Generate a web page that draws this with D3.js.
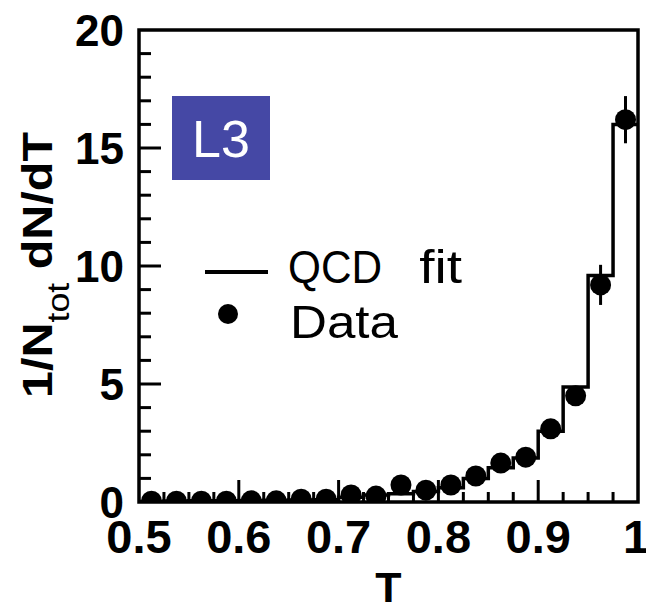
<!DOCTYPE html>
<html>
<head>
<meta charset="utf-8">
<script src="https://cdn.jsdelivr.net/npm/d3@7"></script>
<style>
  html, body { margin: 0; padding: 0; background: #fff; }
  svg { display: block; font-family: "Liberation Sans", Arial, sans-serif; }
</style>
</head>
<body>
<svg id="chart" width="646" height="607"></svg>
<script>
// ---- data ----
const binCenters = [0.5125, 0.5375, 0.5625, 0.5875, 0.6125, 0.6375, 0.6625, 0.6875, 0.7125, 0.7375,
                    0.7625, 0.7875, 0.8125, 0.8375, 0.8625, 0.8875, 0.9125, 0.9375, 0.9625, 0.9875];
const binWidth = 0.025;
const dataValues = [0.03, 0.03, 0.03, 0.03, 0.05, 0.05, 0.12, 0.12, 0.3, 0.25,
                    0.72, 0.5, 0.72, 1.1, 1.65, 1.9, 3.1, 4.5, 9.2, 16.2];
const dataErrors = [0.03, 0.03, 0.03, 0.03, 0.04, 0.04, 0.05, 0.05, 0.07, 0.07,
                    0.1, 0.1, 0.1, 0.12, 0.15, 0.2, 0.25, 0.35, 0.85, 1.0];
const fitValues  = [0.02, 0.04, 0.05, 0.05, 0.06, 0.07, 0.08, 0.1, 0.2, 0.3,
                    0.35, 0.45, 0.6, 1.0, 1.45, 1.86, 3.0, 4.87, 9.6, 16.0];
const xTickLabels = ["0.5", "0.6", "0.7", "0.8", "0.9", "1"];
const xTickValues = [0.5, 0.6, 0.7, 0.8, 0.9, 1.0];
const yTickValues = [0, 5, 10, 15, 20];
const legendLabels = ["QCD fit", "Data"];
const boxLabel = "L3";

// ---- layout ----
const L = 139, R = 638, T = 30, B = 502;
const svg = d3.select("#chart");
const x = d3.scaleLinear().domain([0.5, 1.0]).range([L, R]);
const y = d3.scaleLinear().domain([0, 20]).range([B, T]);

svg.append("defs").append("clipPath").attr("id", "plotclip")
  .append("rect").attr("x", L).attr("y", T).attr("width", R - L).attr("height", B - T);

const plot = svg.append("g").attr("clip-path", "url(#plotclip)");

// histogram (QCD fit) as steps
const stepPts = binCenters.map((c, i) => [c - binWidth / 2, fitValues[i]]);
stepPts.push([binCenters[binCenters.length - 1] + binWidth / 2, fitValues[fitValues.length - 1]]);
const stepLine = d3.line().x(d => x(d[0])).y(d => y(d[1])).curve(d3.curveStepAfter);
plot.append("path").attr("d", stepLine(stepPts))
  .attr("fill", "none").attr("stroke", "#000").attr("stroke-width", 3.5);

// error bars
plot.selectAll("line.err").data(binCenters).join("line").attr("class", "err")
  .attr("x1", d => x(d)).attr("x2", d => x(d))
  .attr("y1", (d, i) => y(dataValues[i] - dataErrors[i]))
  .attr("y2", (d, i) => y(dataValues[i] + dataErrors[i]))
  .attr("stroke", "#000").attr("stroke-width", 3);

// data points
plot.selectAll("circle.pt").data(binCenters).join("circle").attr("class", "pt")
  .attr("cx", d => x(d)).attr("cy", (d, i) => y(dataValues[i]))
  .attr("r", 10.5).attr("fill", "#000");

// frame
svg.append("rect").attr("x", L).attr("y", T).attr("width", R - L).attr("height", B - T)
  .attr("fill", "none").attr("stroke", "#000").attr("stroke-width", 3.5);

// y axis ticks (inward)
const yMinor = d3.range(1, 20).filter(v => v % 5 !== 0);
svg.append("g").selectAll("line").data(yMinor).join("line")
  .attr("x1", L).attr("x2", L + 12).attr("y1", d => y(d)).attr("y2", d => y(d))
  .attr("stroke", "#000").attr("stroke-width", 3);
svg.append("g").selectAll("line").data(yTickValues.filter(v => v > 0 && v < 20)).join("line")
  .attr("x1", L).attr("x2", L + 22).attr("y1", d => y(d)).attr("y2", d => y(d))
  .attr("stroke", "#000").attr("stroke-width", 3);

// x axis ticks (inward)
const xMinorVals = d3.range(1, 20).map(i => 0.5 + i * 0.025).filter((v, i) => (i + 1) % 4 !== 0);
svg.append("g").selectAll("line").data(xMinorVals).join("line")
  .attr("x1", d => x(d)).attr("x2", d => x(d)).attr("y1", B).attr("y2", B - 10)
  .attr("stroke", "#000").attr("stroke-width", 3);
svg.append("g").selectAll("line").data(xTickValues.filter(v => v > 0.5 && v < 1)).join("line")
  .attr("x1", d => x(d)).attr("x2", d => x(d)).attr("y1", B).attr("y2", B - 22)
  .attr("stroke", "#000").attr("stroke-width", 3);

// tick labels
svg.append("g").selectAll("text").data(yTickValues).join("text")
  .attr("x", 124).attr("y", d => y(d) + 16)
  .attr("text-anchor", "end").attr("font-size", 44).attr("font-weight", "bold")
  .text(d => d);
svg.append("g").selectAll("text").data(xTickValues).join("text")
  .attr("x", (d, i) => i === xTickValues.length - 1 ? x(d) - 2 : x(d)).attr("y", 553)
  .attr("text-anchor", "middle").attr("font-size", 47).attr("font-weight", "bold")
  .text((d, i) => xTickLabels[i]);

// axis titles
svg.append("text").attr("x", (L + R) / 2).attr("y", 602)
  .attr("text-anchor", "middle").attr("font-size", 43).attr("font-weight", "bold").text("T");

const yt = svg.append("text")
  .attr("transform", "translate(52,265) rotate(-90)")
  .attr("text-anchor", "middle").attr("font-size", 42).attr("font-weight", "bold")
  .attr("textLength", 266).attr("lengthAdjust", "spacingAndGlyphs");
yt.append("tspan").text("1/N");
yt.append("tspan").attr("font-size", 31).attr("font-weight", "normal").attr("dy", 17).text("tot");
yt.append("tspan").attr("dy", -17).text(" dN/dT");

// L3 box
svg.append("rect").attr("x", 172).attr("y", 96).attr("width", 98).attr("height", 84).attr("fill", "#4548a5");
svg.append("text").attr("x", 221).attr("y", 157).attr("text-anchor", "middle")
  .attr("font-size", 52).attr("fill", "#fff").text(boxLabel);

// legend
svg.append("line").attr("x1", 205).attr("x2", 268).attr("y1", 272).attr("y2", 272)
  .attr("stroke", "#000").attr("stroke-width", 4);
svg.append("circle").attr("cx", 228).attr("cy", 314).attr("r", 10).attr("fill", "#000");
const qcdWords = legendLabels[0].split(" ");
const lt = svg.append("text").attr("y", 283).attr("font-size", 46);
lt.append("tspan").attr("x", 288).attr("textLength", 94).attr("lengthAdjust", "spacingAndGlyphs").text(qcdWords[0]);
lt.append("tspan").attr("x", 404).attr("textLength", 58).attr("lengthAdjust", "spacingAndGlyphs").text(" " + qcdWords[1]);
svg.append("text").attr("x", 290).attr("y", 338).attr("font-size", 47)
  .attr("textLength", 108).attr("lengthAdjust", "spacingAndGlyphs").text(legendLabels[1]);
</script>
</body>
</html>
